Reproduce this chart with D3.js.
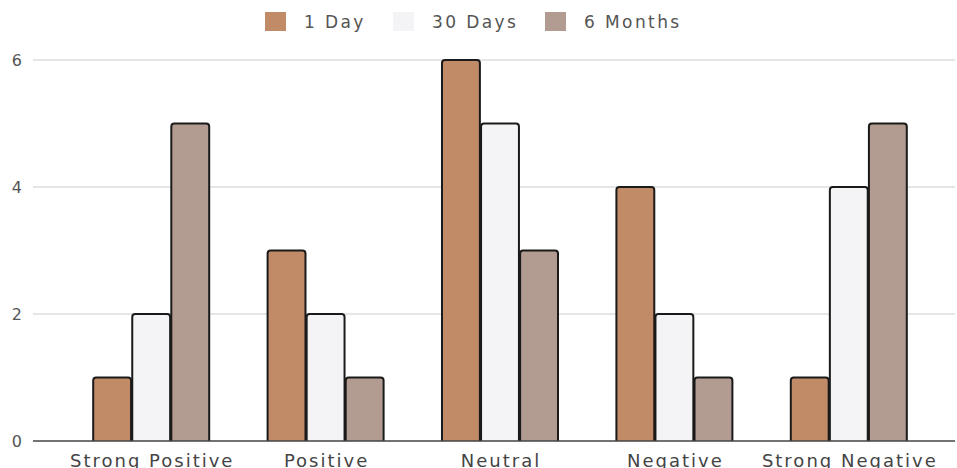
<!DOCTYPE html>
<html><head><meta charset="utf-8">
<script src="https://cdn.jsdelivr.net/npm/d3@7"></script>
<style>html,body{margin:0;padding:0;background:#fff;overflow:hidden}</style>
</head><body>
<svg id="chart" width="957" height="468"></svg>
<script>
const categories = ["Strong Positive","Positive","Neutral","Negative","Strong Negative"];
const seriesNames = ["1 Day","30 Days","6 Months"];
const oneDay = [1,3,6,4,1];
const thirtyDays = [2,2,5,2,4];
const sixMonths = [5,1,3,1,5];
const yTicks = [0,2,4,6];
const colors = ["#c08b66","#f4f4f7","#b29b90"];

const values = [oneDay, thirtyDays, sixMonths];
const svg = d3.select("#chart");
const font = "'DejaVu Sans', Verdana, sans-serif";

const y = d3.scaleLinear().domain([0,6]).range([441,60]);
const x0 = d3.scaleBand().domain(categories).range([64,936]);
const groupW = 116;
const x1 = d3.scaleBand().domain(seriesNames).range([0,groupW]).paddingInner(0.03);

// gridlines
svg.append("g").selectAll("line").data(yTicks.filter(t=>t>0)).join("line")
  .attr("x1",33).attr("x2",955).attr("y1",d=>y(d)).attr("y2",d=>y(d))
  .attr("stroke","#cccccc").attr("stroke-width",1);

// y labels
svg.append("g").selectAll("text").data(yTicks).join("text")
  .attr("x",22).attr("y",d=>y(d)+6).attr("text-anchor","end")
  .attr("font-family",font).attr("font-size",16).attr("fill","#555")
  .text(d=>d);

// bars
const r = 3;
function barPath(x,yTop,w,yBot){
  return `M${x},${yBot} L${x},${yTop+r} Q${x},${yTop} ${x+r},${yTop} L${x+w-r},${yTop} Q${x+w},${yTop} ${x+w},${yTop+r} L${x+w},${yBot}`;
}
const g = svg.append("g");
categories.forEach((c,ci)=>{
  const gx = x0(c) + (x0.bandwidth()-groupW)/2;
  seriesNames.forEach((s,si)=>{
    const v = values[si][ci];
    const bx = gx + x1(s);
    g.append("path")
      .attr("d", barPath(bx, y(v), x1.bandwidth(), y(0)))
      .attr("fill", colors[si]).attr("stroke","#1a1a1a").attr("stroke-width",2);
  });
});

// x axis
svg.append("line").attr("x1",33).attr("x2",955).attr("y1",y(0)).attr("y2",y(0))
  .attr("stroke","#444").attr("stroke-width",1.5);
svg.append("g").selectAll("text").data(categories).join("text")
  .attr("x",d=>x0(d)+x0.bandwidth()/2+1).attr("y",467).attr("text-anchor","middle")
  .attr("font-family",font).attr("font-size",18).attr("letter-spacing",2).attr("fill","#444")
  .text(d=>d);

// legend
const legX = [265, 393, 545];
const lg = svg.append("g");
seriesNames.forEach((s,i)=>{
  lg.append("rect").attr("x",legX[i]).attr("y",12).attr("width",21).attr("height",19)
    .attr("fill",colors[i]);
  lg.append("text").attr("x",legX[i]+39).attr("y",28)
    .attr("font-family",font).attr("font-size",17).attr("letter-spacing",2.4).attr("fill","#555").text(s);
});
</script>
</body></html>
